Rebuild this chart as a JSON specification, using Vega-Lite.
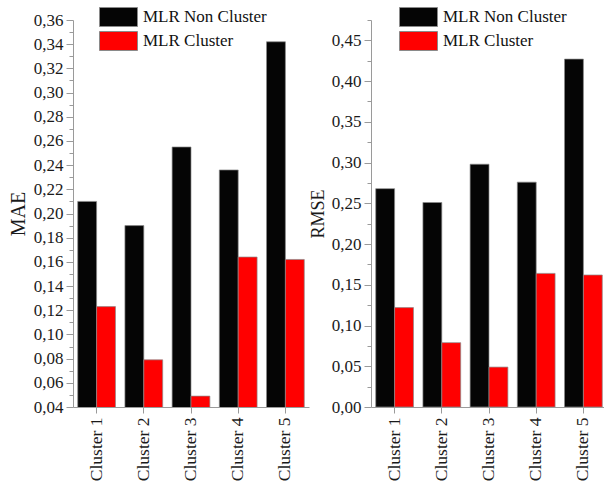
{
  "$schema": "https://vega.github.io/schema/vega-lite/v6.json",
  "padding": {"left": 8, "top": 7, "right": 0, "bottom": 0},
  "config": {
    "font": "Times New Roman",
    "view": {"stroke": null},
    "concat": {"spacing": 0},
    "axis": {
      "grid": false,
      "domainColor": "#9a9a9a",
      "tickColor": "#9a9a9a",
      "domainWidth": 1,
      "tickWidth": 1,
      "labelFont": "serif",
      "titleFont": "Times New Roman",
      "labelColor": "#1a1a1a",
      "titleColor": "#1a1a1a",
      "titleFontWeight": "normal",
      "labelFontSize": 17,
      "labelOverlap": false,
      "labelFlush": false,
      "labelBound": false
    },
    "legend": {
      "title": null,
      "orient": "none",
      "symbolType": "M-2,-1H2V1H-2Z",
      "symbolSize": 361,
      "symbolStrokeColor": "#8a8a8a",
      "symbolStrokeWidth": 1,
      "symbolOpacity": 1,
      "labelFont": "serif",
      "labelFontSize": 17,
      "labelColor": "#111111",
      "labelOffset": 14.5,
      "rowPadding": 0,
      "padding": 0
    }
  },
  "datasets": {
    "errors": [
      {"cluster": "Cluster 1", "method": "MLR Non Cluster", "MAE": 0.210, "RMSE": 0.268},
      {"cluster": "Cluster 1", "method": "MLR Cluster", "MAE": 0.123, "RMSE": 0.122},
      {"cluster": "Cluster 2", "method": "MLR Non Cluster", "MAE": 0.190, "RMSE": 0.251},
      {"cluster": "Cluster 2", "method": "MLR Cluster", "MAE": 0.079, "RMSE": 0.079},
      {"cluster": "Cluster 3", "method": "MLR Non Cluster", "MAE": 0.255, "RMSE": 0.298},
      {"cluster": "Cluster 3", "method": "MLR Cluster", "MAE": 0.049, "RMSE": 0.049},
      {"cluster": "Cluster 4", "method": "MLR Non Cluster", "MAE": 0.236, "RMSE": 0.276},
      {"cluster": "Cluster 4", "method": "MLR Cluster", "MAE": 0.164, "RMSE": 0.164},
      {"cluster": "Cluster 5", "method": "MLR Non Cluster", "MAE": 0.342, "RMSE": 0.427},
      {"cluster": "Cluster 5", "method": "MLR Cluster", "MAE": 0.162, "RMSE": 0.162}
    ]
  },
  "resolve": {"scale": {"y": "independent"}, "legend": {"color": "independent"}},
  "hconcat": [
    {
      "width": 236,
      "height": 387,
      "data": {"name": "errors"},
      "mark": {"type": "bar", "stroke": "#8a8a8a", "strokeWidth": 0.7, "clip": true},
      "encoding": {
        "x": {
          "field": "cluster", "type": "nominal",
          "scale": {"paddingInner": 0.2, "paddingOuter": 0.1},
          "axis": {"title": null, "labelAngle": -90, "tickSize": 6, "labelPadding": 4, "labelFontSize": 17.5}
        },
        "xOffset": {"field": "method", "sort": ["MLR Non Cluster", "MLR Cluster"], "scale": {"paddingInner": 0, "paddingOuter": 0}},
        "y": {
          "field": "MAE", "type": "quantitative",
          "scale": {"domain": [0.04, 0.36], "nice": false, "zero": false},
          "axis": {
            "title": "MAE",
            "titleFontSize": 20,
            "titlePadding": 5,
            "labelPadding": 3,
            "values": [0.04, 0.05, 0.06, 0.07, 0.08, 0.09, 0.10, 0.11, 0.12, 0.13, 0.14, 0.15, 0.16, 0.17, 0.18, 0.19, 0.20, 0.21, 0.22, 0.23, 0.24, 0.25, 0.26, 0.27, 0.28, 0.29, 0.30, 0.31, 0.32, 0.33, 0.34, 0.35, 0.36],
            "labelExpr": "round(datum.value * 100) % 2 == 0 ? replace(format(datum.value, '.2f'), '.', ',') : ''",
            "tickSize": {"condition": {"test": "round(datum.value * 100) % 2 == 0", "value": 7}, "value": 4}
          }
        },
        "color": {
          "field": "method", "type": "nominal",
          "scale": {"domain": ["MLR Non Cluster", "MLR Cluster"], "range": ["#050505", "#ff0000"]},
          "legend": {"legendX": 35.5, "legendY": -13}
        }
      }
    },
    {
      "width": 236,
      "height": 387,
      "data": {"name": "errors"},
      "mark": {"type": "bar", "stroke": "#8a8a8a", "strokeWidth": 0.7, "clip": true},
      "encoding": {
        "x": {
          "field": "cluster", "type": "nominal",
          "scale": {"paddingInner": 0.2, "paddingOuter": 0.1},
          "axis": {"title": null, "labelAngle": -90, "tickSize": 6, "labelPadding": 4, "labelFontSize": 17.5}
        },
        "xOffset": {"field": "method", "sort": ["MLR Non Cluster", "MLR Cluster"], "scale": {"paddingInner": 0, "paddingOuter": 0}},
        "y": {
          "field": "RMSE", "type": "quantitative",
          "scale": {"domain": [0, 0.475], "nice": false, "zero": false},
          "axis": {
            "title": "RMSE",
            "titleFontSize": 18,
            "titlePadding": 4,
            "labelPadding": 3,
            "values": [0, 0.025, 0.05, 0.075, 0.1, 0.125, 0.15, 0.175, 0.2, 0.225, 0.25, 0.275, 0.3, 0.325, 0.35, 0.375, 0.4, 0.425, 0.45, 0.475],
            "labelExpr": "round(datum.value * 1000) % 50 == 0 ? replace(format(datum.value, '.2f'), '.', ',') : ''",
            "tickSize": {"condition": {"test": "round(datum.value * 1000) % 50 == 0", "value": 7}, "value": 4}
          }
        },
        "color": {
          "field": "method", "type": "nominal",
          "scale": {"domain": ["MLR Non Cluster", "MLR Cluster"], "range": ["#050505", "#ff0000"]},
          "legend": {"legendX": 37.5, "legendY": -13}
        }
      }
    }
  ]
}
